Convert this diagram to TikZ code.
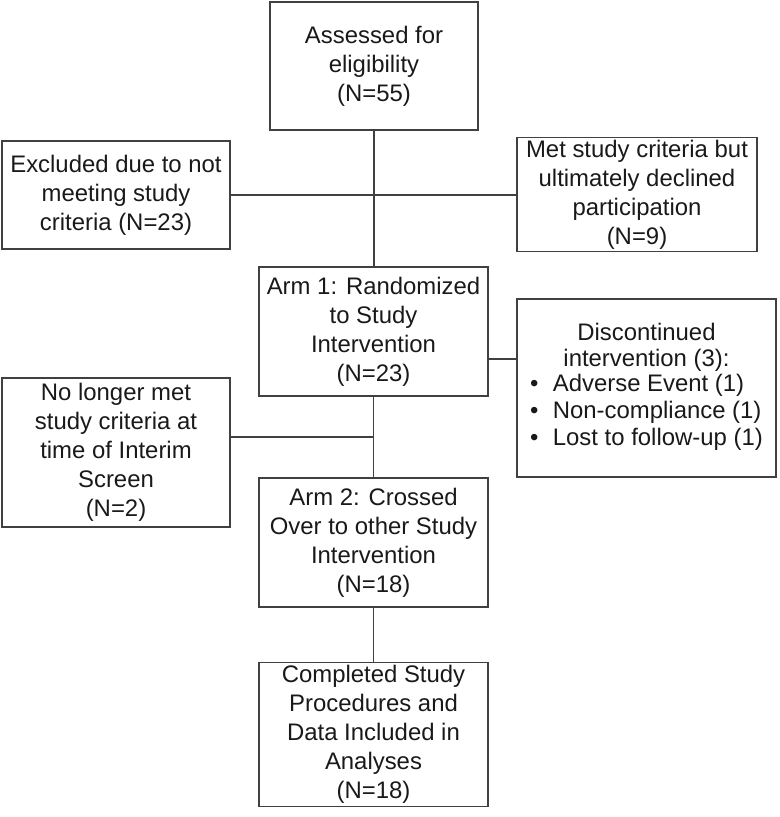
\documentclass[tikz,border=0pt]{standalone}
\usepackage{fontspec}
\setmainfont{Liberation Sans}
\usepackage{tikz}
\tikzset{>=latex}
\tikzset{
  flowbox/.style={draw=black!75, line width=0.8pt, rectangle, align=center,
    inner sep=2pt, font=\fontsize{17}{20.6}\selectfont, text=black!90},
  flowline/.style={draw=black!75, line width=0.8pt}
}

\begin{document}
\begin{tikzpicture}[x=0.025cm, y=-0.025cm]
  \useasboundingbox (0,0) rectangle (779,817);
  \node[flowbox, minimum width=5.2cm, minimum height=3.2cm] (assess) at (374,66)
    {Assessed for\\eligibility\\(N=55)};
  \node[flowbox, minimum width=5.7cm, minimum height=2.7cm] (excl) at (116,195)
    {Excluded due to not\\meeting study\\criteria (N=23)};
  \node[flowbox, minimum width=6.0cm, minimum height=2.725cm] (declin) at (637,194.5)
    {Met study criteria but\\ultimately declined\\participation\\(N=9)};
  \node[flowbox, minimum width=5.725cm, minimum height=3.225cm] (arm1) at (373.5,331.5)
    {Arm 1: Randomized\\to Study\\Intervention\\(N=23)};
  \node[flowbox, minimum width=6.475cm, minimum height=4.45cm,
    font=\fontsize{17}{19}\selectfont] (disc) at (646.5,388)
    {Discontinued\\intervention (3):\\
     \begin{tabular}{@{}l@{\hspace{0.6em}}l@{}}
       \textbullet & Adverse Event (1)\\
       \textbullet & Non-compliance (1)\\
       \textbullet & Lost to follow-up (1)
     \end{tabular}};
  \node[flowbox, minimum width=5.7cm, minimum height=3.725cm] (nolong) at (116,452.5)
    {No longer met\\study criteria at\\time of Interim\\Screen\\(N=2)};
  \node[flowbox, minimum width=5.725cm, minimum height=3.225cm] (arm2) at (373.5,542.5)
    {Arm 2: Crossed\\Over to other Study\\Intervention\\(N=18)};
  \node[flowbox, minimum width=5.725cm, minimum height=3.525cm] (compl) at (373.5,734.5)
    {Completed Study\\Procedures and\\Data Included in\\Analyses\\(N=18)};

  % join points on the trunk
  \coordinate (split) at (374,195);
  \coordinate (discrow) at (0,359);
  \coordinate (joinrow) at (374,437);

  \draw[flowline] (assess.south) -- (assess.south |- arm1.north);
  \draw[flowline] (excl.east |- split) -- (declin.west |- split);
  \draw[flowline] (arm1.east |- discrow) -- (disc.west |- discrow);
  \draw[flowline] (arm1.south) -- (arm1.south |- arm2.north);
  \draw[flowline] (nolong.east |- joinrow) -- (joinrow);
  \draw[flowline] (arm2.south) -- (compl.north);
\end{tikzpicture}
\end{document}
